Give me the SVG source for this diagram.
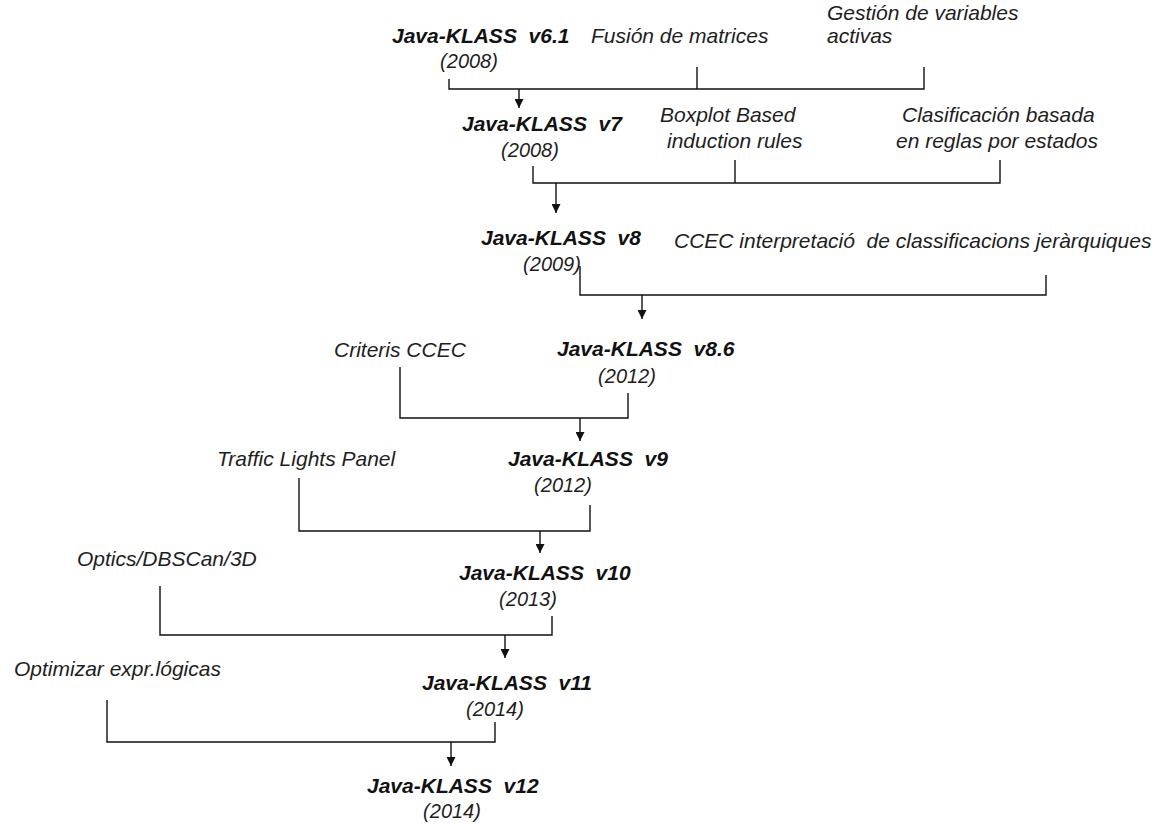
<svg xmlns="http://www.w3.org/2000/svg" width="1171" height="824" viewBox="0 0 1171 824">
<style>
text{font-family:"Liberation Sans",Arial,sans-serif;font-size:21px;font-style:italic;fill:#1e1e1e}
.t{font-weight:bold;fill:#111}
.y{text-anchor:middle;font-size:20px}
.ln{stroke:#111;stroke-width:1.4;fill:none}
</style>
<defs>
<marker id="ah" viewBox="0 0 10 10" refX="10" refY="5" markerWidth="10" markerHeight="9" markerUnits="userSpaceOnUse" orient="auto">
<path d="M0,0 L10,5 L0,10 z" fill="#111"/>
</marker>
</defs>
<rect width="1171" height="824" fill="#fff"/>
<g id="v61"><text class="t" x="392" y="43">Java-KLASS&#160; v6.1</text><text class="y" x="469" y="68">(2008)</text></g>
<g id="fusion"><text x="591" y="43">Fusión de matrices</text></g>
<g id="gestion"><text x="827" y="20">Gestión de variables</text><text x="827" y="43">activas</text></g>
<g id="v7"><text class="t" x="462" y="131">Java-KLASS&#160; v7</text><text class="y" x="530" y="157">(2008)</text></g>
<g id="boxplot"><text x="660" y="122">Boxplot Based</text><text x="667" y="148">induction rules</text></g>
<g id="clasif"><text x="902" y="122">Clasificación basada</text><text x="896" y="148">en reglas por estados</text></g>
<g id="v8"><text class="t" x="481" y="245">Java-KLASS&#160; v8</text><text class="y" x="552" y="271">(2009)</text></g>
<g id="ccec"><text x="674" y="248">CCEC interpretació&#160; de classificacions jeràrquiques</text></g>
<g id="v86"><text class="t" x="557" y="356">Java-KLASS&#160; v8.6</text><text class="y" x="627" y="383">(2012)</text></g>
<g id="criteris"><text x="334" y="357">Criteris CCEC</text></g>
<g id="v9"><text class="t" x="508" y="466">Java-KLASS&#160; v9</text><text class="y" x="563" y="492">(2012)</text></g>
<g id="traffic"><text x="217" y="466">Traffic Lights Panel</text></g>
<g id="v10"><text class="t" x="459" y="580">Java-KLASS&#160; v10</text><text class="y" x="528" y="606">(2013)</text></g>
<g id="optics"><text x="77" y="566">Optics/DBSCan/3D</text></g>
<g id="v11"><text class="t" x="422" y="690">Java-KLASS&#160; v11</text><text class="y" x="495" y="716">(2014)</text></g>
<g id="optimizar"><text x="14" y="676">Optimizar expr.lógicas</text></g>
<g id="v12"><text class="t" x="367" y="793">Java-KLASS&#160; v12</text><text class="y" x="452" y="818">(2014)</text></g>
<g id="connectors" class="ln">
<path d="M449,79 V89 H924 V67 M697,67 V89"/>
<path d="M519,89 V108" marker-end="url(#ah)"/>
<path d="M533,166 V183 H1000 V160 M735,160 V183"/>
<path d="M556,183 V213" marker-end="url(#ah)"/>
<path d="M580,266 V295 H1046 V275"/>
<path d="M642,295 V319" marker-end="url(#ah)"/>
<path d="M400,367 V418 H628 V393"/>
<path d="M580,418 V441" marker-end="url(#ah)"/>
<path d="M299,478 V531 H590 V505"/>
<path d="M540,531 V553" marker-end="url(#ah)"/>
<path d="M160,586 V635 H552 V616"/>
<path d="M505,635 V658" marker-end="url(#ah)"/>
<path d="M107,700 V742 H495 V722"/>
<path d="M451,742 V766" marker-end="url(#ah)"/>
</g>
</svg>
